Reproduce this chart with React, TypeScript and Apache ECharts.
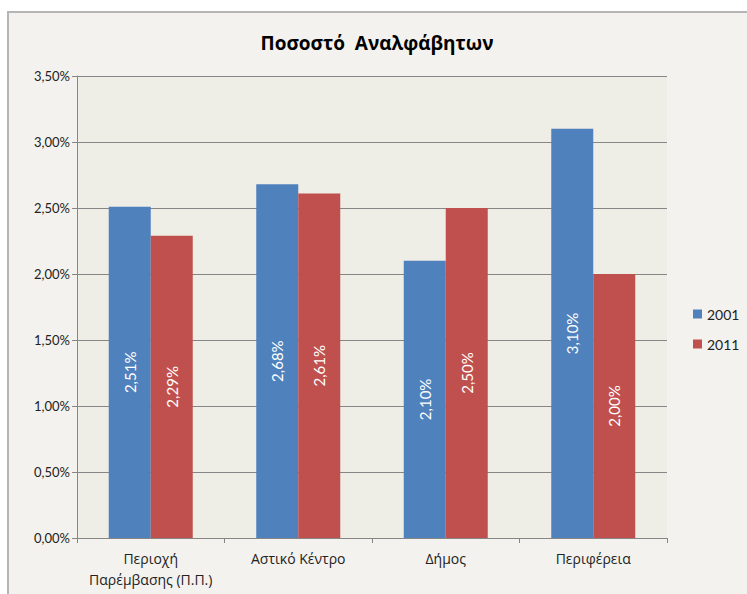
import React, { useEffect, useRef } from "react";
import * as echarts from "echarts";

const categories = ["Περιοχή\nΠαρέμβασης (Π.Π.)", "Αστικό Κέντρο", "Δήμος", "Περιφέρεια"];
const values2001 = [2.51, 2.68, 2.1, 3.1];
const values2011 = [2.29, 2.61, 2.5, 2.0];
const seriesNames = ["2001", "2011"];
const titleText = "Ποσοστό  Αναλφάβητων";

const FONT = "'Open Sans', 'Noto Sans', sans-serif";
const NUMFONT = "Lato, 'Open Sans', sans-serif";
const fmt = (v: number) => v.toFixed(2).replace(".", ",") + "%";

export default function App() {
  const ref = useRef<HTMLDivElement>(null);
  useEffect(() => {
    const chart = echarts.init(ref.current!, undefined, { renderer: "svg" });
    const barLabel = {
      show: true,
      position: "inside",
      rotate: 90,
      color: "#fff",
      fontFamily: NUMFONT,
      fontSize: 15,
      formatter: (p: any) => fmt(p.value),
    };
    chart.setOption({
      animation: false,
      backgroundColor: "#ffffff",
      graphic: [
        {
          type: "rect",
          z: -10,
          silent: true,
          shape: { x: 8, y: 12, width: 760, height: 600 },
          style: { fill: "#F3F2EE", stroke: "#B5B5B5", lineWidth: 2 },
        },
      ],
      title: {
        text: titleText,
        left: 372,
        top: 28,
        textAlign: "center",
        textStyle: { fontFamily: FONT, fontSize: 19, fontWeight: "bold", color: "#000" },
      },
      legend: {
        orient: "vertical",
        left: 688,
        top: 302,
        itemWidth: 9,
        itemHeight: 9,
        itemGap: 16,
        icon: "rect",
        textStyle: { fontFamily: NUMFONT, fontSize: 14, color: "#222" },
        data: seriesNames,
      },
      grid: {
        left: 77,
        right: 80,
        top: 76,
        bottom: 56,
        show: true,
        backgroundColor: "#EEEDE6",
        borderWidth: 0,
      },
      xAxis: {
        type: "category",
        data: categories,
        axisLine: { lineStyle: { color: "#868686" } },
        axisTick: { show: true, length: 5, lineStyle: { color: "#868686" } },
        axisLabel: {
          fontFamily: FONT,
          fontSize: 14,
          color: "#222",
          margin: 10,
          lineHeight: 21,
          interval: 0,
        },
      },
      yAxis: {
        type: "value",
        min: 0,
        max: 3.5,
        interval: 0.5,
        axisLine: { show: true, lineStyle: { color: "#868686" } },
        axisTick: { show: true, length: 5, lineStyle: { color: "#868686" } },
        splitLine: { lineStyle: { color: "#868686", width: 1 } },
        axisLabel: {
          fontFamily: NUMFONT,
          fontSize: 13,
          color: "#222",
          margin: 7,
          formatter: (v: number) => fmt(v),
        },
      },
      series: [
        {
          name: seriesNames[0],
          type: "bar",
          data: values2001,
          barWidth: 42,
          barGap: "0%",
          itemStyle: { color: "#4F81BD" },
          label: barLabel,
        },
        {
          name: seriesNames[1],
          type: "bar",
          data: values2011,
          barWidth: 42,
          barGap: "0%",
          itemStyle: { color: "#C0504D" },
          label: barLabel,
        },
      ],
    });
    return () => chart.dispose();
  }, []);
  return (
    <div
      ref={ref}
      style={{ position: "absolute", left: 0, top: 0, width: 747, height: 594 }}
    />
  );
}
